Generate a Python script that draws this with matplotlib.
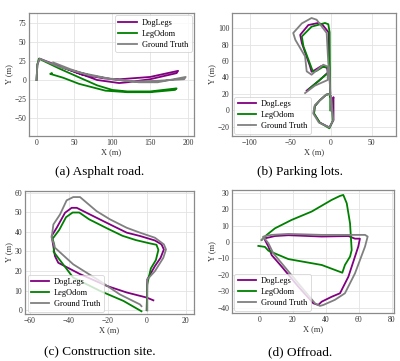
import matplotlib
matplotlib.use("Agg")
import matplotlib.pyplot as plt

plt.rcParams['font.family'] = ['Liberation Serif', 'DejaVu Serif']

# ---------------- data (waypoints) ----------------
# (a) Asphalt road
a_dog_x = [0, 1, 4, 30, 60, 90, 110, 150, 187, 185, 150, 120, 109, 80, 50, 24]
a_dog_y = [0, 20, 28, 18, 7, 2, 1, 4, 12, 9, 1, -3, -4, 0, 11, 20]
a_leg_x = [0, 1, 3, 30, 56, 80, 100, 120, 150, 185, 183, 150, 120, 91, 56, 35, 18, 20]
a_leg_y = [0, 20, 28, 15, 3.5, -7, -13, -15, -15, -11, -13, -16, -16, -14, -5, 3, 8, 9]
a_gt_x = [0, 1, 4, 30, 56, 100, 135, 160, 197, 195, 160, 130, 100, 70, 45, 22]
a_gt_y = [0, 20, 28, 17, 10, 1, -3, -3, 4, 1, -1, -2, 1, 6, 14, 23]

# (b) Parking lots
b_dog_x = [-30, -15, -4, -5, -12, -20, -24, -26, -36, -38, -28, -16, -11, -3, -2.5, -1, -6, -14, -20, -21, -14, -2, 3, 3, 3, 3, 0, 0]
b_dog_y = [24, 36, 46, 52, 54, 49, 47, 54, 82, 92, 104, 106.5, 105, 95, 60, 20, 19, 12, 5, -4, -15, -21, -12, 4, 12, 16, 5, 0]
b_leg_x = [-27, -14, -3, -4, -10, -18, -22, -24, -34, -36, -24, -7.5, -3.4, -1.7, -1.5, -1, -6, -14, -20, -21, -14, -2, 2, 1.5, 1, -1, -1]
b_leg_y = [26, 37, 46, 52, 53, 48, 47, 51.5, 78, 90, 102, 106.5, 105, 95, 60, 20, 19, 12, 5, -4, -15, -22, -13, -2, 10, 18, 0]
b_gt_x = [-32, -20, -4, -4.2, -3.4, -9.6, -24, -30, -32, -44, -46.6, -36, -24, -17.8, -5.4, -3.4, -2, -1, -6, -14, -20, -22, -15, -2, 2.7, 1, 0, 0]
b_gt_y = [21, 30, 37, 46.8, 53, 55.6, 43.4, 47.5, 65.8, 86, 94.3, 106, 112.6, 110.5, 94.3, 57.6, 48, 20, 19, 12, 6.3, -3.8, -15, -21, -12, 6, 18, 0]

# (c) Construction site
c_dog_x = [0, 0.3, 4.2, 7.1, 8.8, 7.6, 4.2, -3.5, -10.3, -18.9, -29.2, -36.0, -38.6, -42.0, -46.3, -48.9, -47.2, -45.5, -34.3, -20.6, -10.3, 0, 3.4]
c_dog_y = [0, 15.7, 22.5, 26.7, 31.0, 33.6, 35.6, 37.9, 39.6, 43.8, 48.9, 52.3, 52.3, 49.8, 42.1, 37.9, 27.6, 24.2, 18.4, 12.4, 9.0, 6.4, 5.0]
c_leg_x = [0, 0.2, 2.1, 4.7, 6.0, 5.0, 1.2, -5.6, -12.5, -20.2, -29.6, -34.7, -38.1, -41.5, -45.0, -48.4, -47.5, -47.9, -37.8, -24.0, -12.0, -2.7]
c_leg_y = [0, 13.0, 21.3, 25.6, 30.8, 33.4, 34.2, 35.8, 38.0, 41.7, 46.4, 49.9, 49.9, 47.5, 41.0, 36.5, 33.2, 29.8, 16.6, 9.8, 4.7, -0.6]
c_gt_x = [0.3, 0.3, 4.2, 8.5, 9.9, 8.8, 4.2, -3.5, -10.3, -18.9, -25.8, -34.3, -37.8, -41.2, -44.6, -48.0, -48.9, -47.2, -37.8, -24.0, -13.8, -3.5, -2.7]
c_gt_y = [-0.2, 15.7, 19.9, 26.7, 31.0, 33.6, 37.0, 39.6, 42.1, 46.4, 50.6, 57.8, 57.8, 56.1, 48.9, 43.8, 37.0, 31.9, 23.4, 14.8, 8.0, 2.9, 2.0]

# (d) Offroad
d_dog_x = [3.0, 9.1, 17.2, 37.5, 53.7, 57.7, 60.7, 59.7, 53.7, 48.6, 43.6, 37.5, 35.4, 32.4, 23.3, 13.2, 7.1, 5.1, 3.0]
d_dog_y = [2.2, 3.6, 4.1, 3.3, 3.6, 2.0, 2.0, -2.8, -21.1, -31.2, -33.3, -36.3, -38.3, -37.3, -27.2, -15.0, -8.0, -2.8, 1.2]
d_leg_x = [-1.0, 3.0, 5.1, 17.2, 37.5, 50.0, 51.6, 54.7, 55.7, 54.7, 52.7, 50.6, 48.6, 43.6, 31.4, 19.2, 9.1, 4.1, 1.0]
d_leg_y = [-2.4, -3.0, -5.3, -10.4, -14.0, -18.7, -14.0, -8.9, -4.9, 11.3, 23.5, 28.6, 28.0, 25.6, 18.5, 13.4, 8.3, 4.3, 1.2]
d_gt_x = [1.0, 3.0, 7.1, 17.2, 37.5, 55.7, 63.8, 65.4, 63.8, 57.7, 51.6, 45.5, 38.5, 36.4, 33.4, 23.3, 13.2, 8.1, 5.1, 2.0]
d_gt_y = [1.2, 3.6, 4.3, 4.9, 4.3, 4.3, 4.3, 3.3, -2.8, -19.1, -31.2, -35.2, -38.3, -38.9, -37.3, -25.2, -13.0, -6.9, -0.8, 3.2]

series_names = ["DogLegs", "LegOdom", "Ground Truth"]
series_colors = ["#800080", "#008000", "#808080"]

captions = ["(a) Asphalt road.", "(b) Parking lots.", "(c) Construction site.", "(d) Offroad."]
x_ticks = [[0, 50, 100, 150, 200], [-100, -50, 0, 50], [-60, -40, -20, 0, 20], [0, 20, 40, 60, 80]]
y_ticks = [[-50, -25, 0, 25, 50, 75], [-20, 0, 20, 40, 60, 80, 100], [0, 10, 20, 30, 40, 50, 60], [-40, -30, -20, -10, 0, 10, 20, 30]]

panels = [
    ((a_dog_x, a_dog_y), (a_leg_x, a_leg_y), (a_gt_x, a_gt_y)),
    ((b_dog_x, b_dog_y), (b_leg_x, b_leg_y), (b_gt_x, b_gt_y)),
    ((c_dog_x, c_dog_y), (c_leg_x, c_leg_y), (c_gt_x, c_gt_y)),
    ((d_dog_x, d_dog_y), (d_leg_x, d_leg_y), (d_gt_x, d_gt_y)),
]

# ---------------- layout ----------------
W, H = 400, 361
fig = plt.figure(figsize=(W / 100, H / 100), dpi=100)

boxes = [(29, 13, 194, 136), (232, 13, 396, 136), (25, 191, 194, 314), (232, 190, 394, 313)]
xlims = [(-10, 208), (-122, 80), (-62.6, 24.3), (-17, 81.4)]
ylims = [(-73.4, 87.8), (-31.4, 118.7), (-2.0, 60.9), (-43.2, 31.6)]
legend_locs = ["upper right", "lower left", "lower left", "lower left"]
cap_pos = [(100, 172), (300, 172), (100, 352), (300, 352)]

for i in range(4):
    x0, y0, x1, y1 = boxes[i]
    ax = fig.add_axes([x0 / W, 1 - y1 / H, (x1 - x0) / W, (y1 - y0) / H])
    ax.set_facecolor("white")
    ax.grid(True, color="#e3e3e3", linewidth=0.6)
    ax.set_axisbelow(True)
    for s in ax.spines.values():
        s.set_color("#8a8a8a")
        s.set_linewidth(0.9)
    for (xs, ys), name, col in zip(panels[i], series_names, series_colors):
        ax.plot(xs, ys, color=col, lw=1.3, label=name, solid_joinstyle="round")
    ax.set_xlim(*xlims[i])
    ax.set_ylim(*ylims[i])
    ax.set_xticks(x_ticks[i])
    ax.set_yticks(y_ticks[i])
    ax.tick_params(length=0, labelsize=5.5, pad=2, labelcolor="#333333")
    ax.set_xlabel("X (m)", fontsize=6, labelpad=1, color="#333333")
    ax.set_ylabel("Y (m)", fontsize=6, labelpad=1, color="#333333")
    leg = ax.legend(loc=legend_locs[i], fontsize=6, handlelength=2.2,
                    frameon=True, framealpha=0.8, edgecolor="#cccccc",
                    borderpad=0.4, labelspacing=0.35, handletextpad=0.6,
                    borderaxespad=0.3)
    leg.get_frame().set_linewidth(0.6)
    cx, cy = cap_pos[i]
    fig.text(cx / W, 1 - cy / H, captions[i], ha="center", va="center", fontsize=9.5)

fig.savefig("out.png", dpi=100)
